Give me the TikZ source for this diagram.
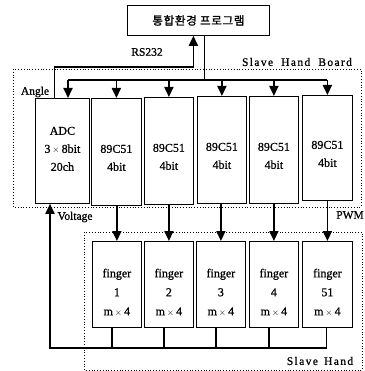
\documentclass[tikz,border=0pt]{standalone}
\usepackage{fontspec}
\setmainfont{Liberation Serif}[FakeBold=0.8]
\newfontfamily\kr{Noto Sans CJK KR}[FakeBold=1.5]
\usetikzlibrary{arrows.meta}
\begin{document}
\begin{tikzpicture}[x=1pt,y=-1pt,
  box/.style={draw, line width=0.8pt, inner sep=0pt, anchor=north west},
  txt/.style={align=center, inner sep=0pt, font=\fontsize{12}{18}\selectfont},
  ftxt/.style={align=center, inner sep=0pt, font=\fontsize{12}{19}\selectfont},
  lbl/.style={inner sep=0pt, font=\fontsize{11.5}{13}\selectfont},
  bus/.style={line width=1.8pt},
  arr/.style={-{Triangle[length=10pt,width=9pt]}, line width=1.8pt},
  dot/.style={dotted, line width=0.8pt}]
\useasboundingbox (0,0) rectangle (364,371);

% dotted regions
\draw[dot] (13,69) rectangle (361,207);
\draw[dot] (84,232) rectangle (362,370);

% top box
\node[box, minimum width=142pt, minimum height=30pt] (top) at (127,5) {};
\node[inner sep=0pt, font=\kr\fontsize{11.5}{13}\selectfont\addfontfeatures{LetterSpace=6}] (toptxt) at (top.center) {통합환경 프로그램};

% controller boxes
\node[box, minimum width=54pt, minimum height=105pt] (adc) at (35,98) {};
\node[box, minimum width=50pt, minimum height=107pt] (m1) at (91,98) {};
\node[box, minimum width=49pt, minimum height=107pt] (m2) at (144,97) {};
\node[box, minimum width=49pt, minimum height=107pt] (m3) at (197,96) {};
\node[box, minimum width=49pt, minimum height=107pt] (m4) at (249,96) {};
\node[box, minimum width=50pt, minimum height=105pt] (m5) at (302,95) {};

\node[txt] (adct) at ([yshift=2pt]adc.center) {ADC\\3\,{\fontsize{9}{9}\selectfont$\times$}\,8bit\\20ch};
\foreach \i in {1,...,5} {
  \node[txt] (m\i t) at ([yshift=-6pt]m\i.center) {89C51\\4bit};
}

% finger boxes
\node[box, minimum width=49pt, minimum height=86pt] (f1) at (92,241) {};
\node[box, minimum width=49pt, minimum height=86pt] (f2) at (144,241) {};
\node[box, minimum width=49pt, minimum height=86pt] (f3) at (196,241) {};
\node[box, minimum width=49pt, minimum height=86pt] (f4) at (249,241) {};
\node[box, minimum width=50pt, minimum height=86pt] (f5) at (302,241) {};
\node[ftxt] (f1t) at ([yshift=-8pt]f1.center) {finger\\1\\m\,{\fontsize{9}{9}\selectfont$\times$}\,4};
\node[ftxt] (f2t) at ([yshift=-8pt]f2.center) {finger\\2\\m\,{\fontsize{9}{9}\selectfont$\times$}\,4};
\node[ftxt] (f3t) at ([yshift=-8pt]f3.center) {finger\\3\\m\,{\fontsize{9}{9}\selectfont$\times$}\,4};
\node[ftxt] (f4t) at ([yshift=-8pt]f4.center) {finger\\4\\m\,{\fontsize{9}{9}\selectfont$\times$}\,4};
\node[ftxt] (f5t) at ([yshift=-8pt]f5.center) {finger\\51\\m\,{\fontsize{9}{9}\selectfont$\times$}\,4};

% top bus
\coordinate (busL) at (68,80);
\coordinate (busR) at (327,80);
\draw[bus] (busL) -- (busR);
\draw[bus] ([xshift=6pt]top.south) -- ([xshift=6pt]top.south |- busL);
\draw[arr] (busL) -- (busL |- adc.north);
\foreach \i in {1,...,5} {
  \draw[arr] (m\i.north |- busL) -- (m\i.north);
}
% angle line to program
\draw[arr] ([xshift=-8pt]adc.north) -- ([xshift=-8pt]adc.north |- 0,67) -| ([xshift=-5pt]top.south);

% PWM arrows
\foreach \i in {1,...,5} {
  \draw[arr] (m\i.south -| f\i.north) -- (f\i.north);
}

% voltage feedback
\coordinate (vb) at (50,348);
\draw[arr] ([xshift=-1pt]f5.south) |- (vb) -- (vb |- adc.south);
\foreach \i in {1,...,4} {
  \draw[bus] ([xshift=-5pt]f\i.south) -- ([xshift=-5pt]f\i.south |- vb);
}

% labels
\node[lbl] (rs) at (147,52) {RS232};
\node[lbl, font=\fontsize{11.5}{13}\selectfont\addfontfeatures{LetterSpace=12}] (shb) at (297,62) {Slave\,\, Hand\,\, Board};
\node[lbl] (ang) at (35,92) {Angle};
\node[lbl] (vol) at (75,217) {Voltage};
\node[lbl] (pwm) at (350,215) {PWM};
\node[lbl, font=\fontsize{11.5}{13}\selectfont\addfontfeatures{LetterSpace=12}] (sh) at (320,361) {Slave\, Hand};
\end{tikzpicture}
\end{document}
